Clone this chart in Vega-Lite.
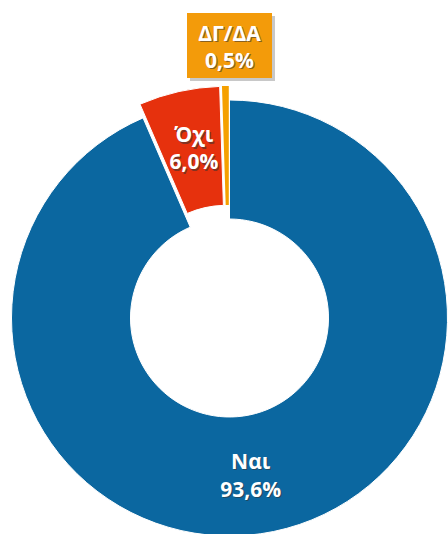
{
  "$schema": "https://vega.github.io/schema/vega-lite/v6.json",
  "width": 459,
  "height": 636,
  "autosize": {"type": "none"},
  "padding": 0,
  "background": "white",
  "config": {"view": {"stroke": null}},
  "data": {
    "values": [
      {"cat": "Ναι", "value": 93.6, "label": ["Ναι", "93,6%"]},
      {"cat": "Όχι", "value": 6.0, "label": ["Όχι", "6,0%"]},
      {"cat": "ΔΓ/ΔΑ", "value": 0.5, "label": ["ΔΓ/ΔΑ", "0,5%"]}
    ]
  },
  "layer": [
    {
      "mark": {"type": "arc", "innerRadius": 99, "outerRadius": 218, "stroke": "white", "strokeWidth": 1},
      "encoding": {
        "theta": {"field": "value", "type": "quantitative", "stack": true},
        "order": {"field": "value", "type": "quantitative", "sort": "descending"},
        "color": {"field": "cat", "type": "nominal", "legend": null, "scale": {"domain": ["Ναι", "Όχι", "ΔΓ/ΔΑ"], "range": ["#0B67A0", "#E6310D", "#F5A000"]}},
        "opacity": {"condition": {"test": "datum.cat === 'Ναι'", "value": 1}, "value": 0}
      }
    },
    {
      "mark": {"type": "arc", "innerRadius": 99, "outerRadius": 218, "stroke": "white", "strokeWidth": 1, "xOffset": -3, "yOffset": -13.7},
      "encoding": {
        "theta": {"field": "value", "type": "quantitative", "stack": true},
        "order": {"field": "value", "type": "quantitative", "sort": "descending"},
        "color": {"field": "cat", "type": "nominal", "legend": null},
        "opacity": {"condition": {"test": "datum.cat === 'Όχι'", "value": 1}, "value": 0}
      }
    },
    {
      "mark": {"type": "arc", "innerRadius": 99, "outerRadius": 218, "strokeWidth": 0, "xOffset": -0.7, "yOffset": -14},
      "encoding": {
        "theta": {"field": "value", "type": "quantitative", "stack": true},
        "order": {"field": "value", "type": "quantitative", "sort": "descending"},
        "color": {"field": "cat", "type": "nominal", "legend": null},
        "opacity": {"condition": {"test": "datum.cat === 'ΔΓ/ΔΑ'", "value": 1}, "value": 0}
      }
    },
    {
      "mark": {"type": "text", "font": "Open Sans", "fontWeight": "bold", "fontSize": 21, "lineHeight": 28, "baseline": "middle", "align": "center", "fill": "#333333", "opacity": 0.55, "dx": -9.8, "dy": -9.5},
      "encoding": {
        "theta": {"field": "value", "type": "quantitative", "stack": true},
        "order": {"field": "value", "type": "quantitative", "sort": "descending"},
        "radius": {"value": 159},
        "text": {"condition": {"test": "datum.cat === 'Ναι'", "field": "label"}, "value": ""}
      }
    },
    {
      "mark": {"type": "text", "font": "Open Sans", "fontWeight": "bold", "fontSize": 21, "lineHeight": 28, "baseline": "middle", "align": "center", "fill": "white", "dx": -11, "dy": -11},
      "encoding": {
        "theta": {"field": "value", "type": "quantitative", "stack": true},
        "order": {"field": "value", "type": "quantitative", "sort": "descending"},
        "radius": {"value": 159},
        "text": {"condition": {"test": "datum.cat === 'Ναι'", "field": "label"}, "value": ""}
      }
    },
    {
      "mark": {"type": "text", "font": "Open Sans", "fontWeight": "bold", "fontSize": 21, "lineHeight": 27, "baseline": "middle", "align": "center", "fill": "#333333", "opacity": 0.55, "xOffset": -3, "yOffset": -13.7, "dx": 3.2, "dy": -11.5},
      "encoding": {
        "theta": {"field": "value", "type": "quantitative", "stack": true},
        "order": {"field": "value", "type": "quantitative", "sort": "descending"},
        "radius": {"value": 159},
        "text": {"condition": {"test": "datum.cat === 'Όχι'", "field": "label"}, "value": ""}
      }
    },
    {
      "mark": {"type": "text", "font": "Open Sans", "fontWeight": "bold", "fontSize": 21, "lineHeight": 27, "baseline": "middle", "align": "center", "fill": "white", "xOffset": -3, "yOffset": -13.7, "dx": 2, "dy": -13},
      "encoding": {
        "theta": {"field": "value", "type": "quantitative", "stack": true},
        "order": {"field": "value", "type": "quantitative", "sort": "descending"},
        "radius": {"value": 159},
        "text": {"condition": {"test": "datum.cat === 'Όχι'", "field": "label"}, "value": ""}
      }
    },
    {
      "transform": [{"filter": "datum.cat === 'ΔΓ/ΔΑ'"}],
      "mark": {"type": "point", "shape": "M-1,-0.765L1,-0.765L1,0.765L-1,0.765Z", "size": 7225, "filled": true, "fill": "#9a9a9a", "opacity": 0.55, "strokeWidth": 0, "xOffset": 3, "yOffset": -269.5},
      "encoding": {}
    },
    {
      "transform": [{"filter": "datum.cat === 'ΔΓ/ΔΑ'"}],
      "mark": {"type": "point", "shape": "M-1,-0.765L1,-0.765L1,0.765L-1,0.765Z", "size": 7225, "filled": true, "fill": "#F39B0A", "opacity": 1, "strokeWidth": 0, "yOffset": -272.5},
      "encoding": {}
    },
    {
      "transform": [{"filter": "datum.cat === 'ΔΓ/ΔΑ'"}],
      "mark": {"type": "text", "font": "Open Sans", "fontWeight": "bold", "fontSize": 21, "lineHeight": 27, "baseline": "middle", "align": "center", "fill": "#333333", "opacity": 0.55, "yOffset": -283.5, "dx": 1.2, "dy": 1.5},
      "encoding": {"text": {"field": "label"}}
    },
    {
      "transform": [{"filter": "datum.cat === 'ΔΓ/ΔΑ'"}],
      "mark": {"type": "text", "font": "Open Sans", "fontWeight": "bold", "fontSize": 21, "lineHeight": 27, "baseline": "middle", "align": "center", "fill": "white", "yOffset": -283.5},
      "encoding": {"text": {"field": "label"}}
    }
  ]
}
